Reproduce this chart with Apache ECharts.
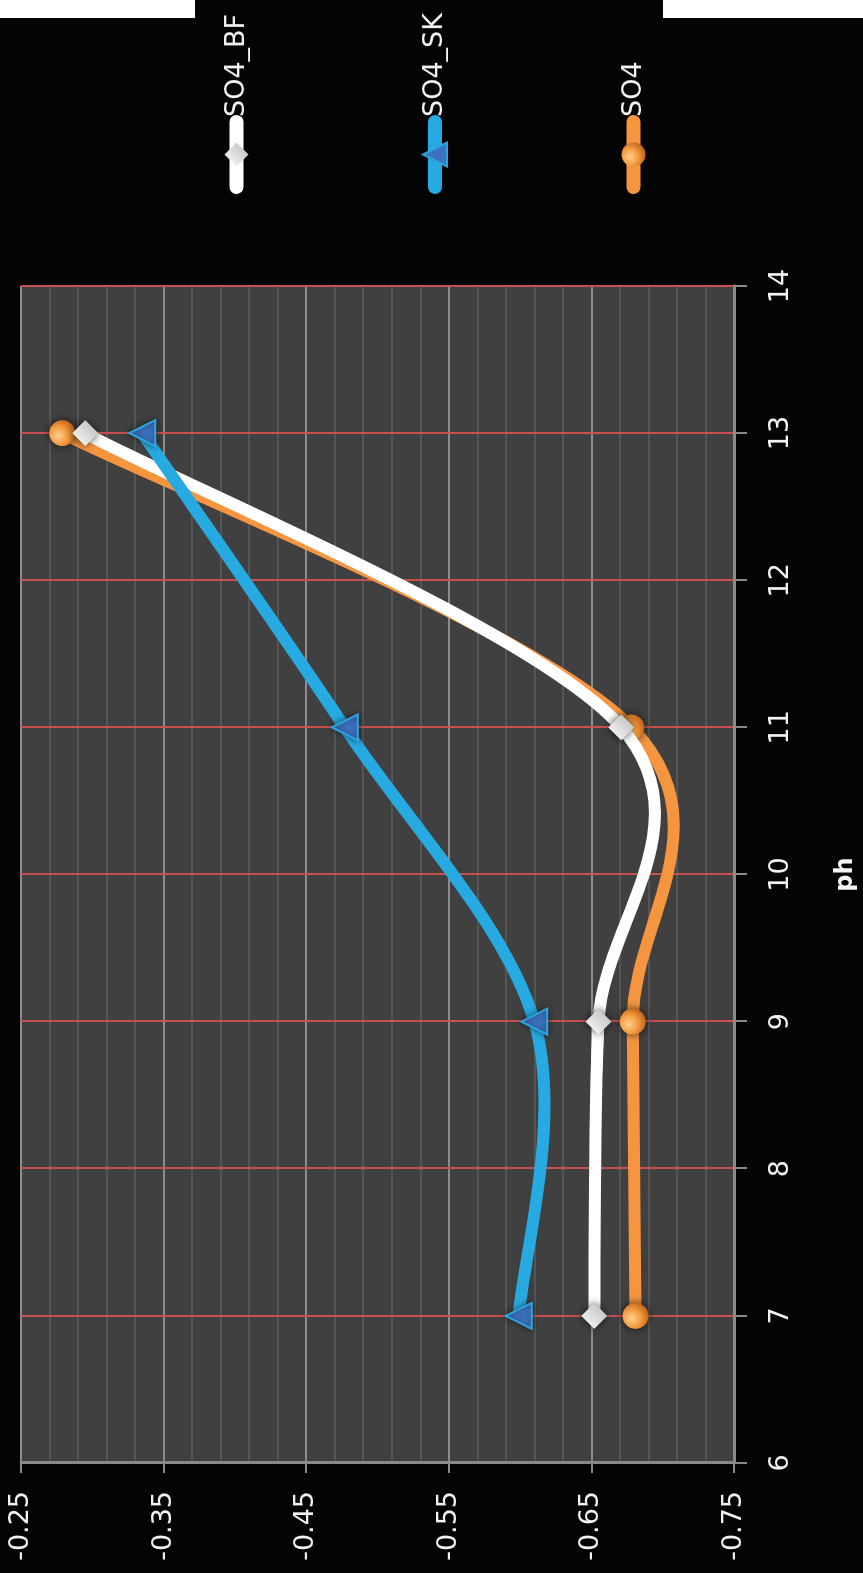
<!DOCTYPE html>
<html>
<head>
<meta charset="utf-8">
<script src="https://cdn.jsdelivr.net/npm/echarts@6/dist/echarts.min.js"></script>
<style>
  html, body { margin: 0; padding: 0; background: #040404; overflow: hidden; }
  /* The chart is laid out landscape and turned a quarter turn counter-clockwise */
  #frame {
    position: absolute; left: 0; top: 0;
    width: 1573px; height: 863px;
    transform-origin: 0 0;
    transform: translate(0, 1573px) rotate(-90deg);
  }
</style>
</head>
<body>
<div id="frame"></div>
<script>
// pH sample points
const ph = [7, 9, 11, 13];
// Series values
const so4BF = [-0.652, -0.655, -0.671, -0.295];
const so4SK = [-0.599, -0.610, -0.477, -0.335];
const so4 = [-0.681, -0.679, -0.678, -0.279];
// Axis ranges
const phRange = [6, 14];
const phStep = 1;
const valueRange = [-0.75, -0.25];
const valueStep = 0.1;

const FONT = 'DejaVu Sans';
const chart = echarts.init(document.getElementById('frame'), null, { renderer: 'canvas', width: 1573, height: 863 });

// Smooth curve through the points: Catmull-Rom segments as cubic Beziers (tension 1/6)
function curveSeries(name, values, color, z) {
  const n = ph.length;
  return {
    type: 'custom',
    name: name,
    z: z,
    silent: true,
    animation: false,
    data: ph.map((p, i) => [p, values[i]]),
    renderItem: function (params, api) {
      const i = params.dataIndex;
      if (i >= n - 1) return null;
      const pt = k => {
        const j = Math.max(0, Math.min(n - 1, k));
        return api.coord([ph[j], values[j]]);
      };
      const p0 = pt(i - 1), p1 = pt(i), p2 = pt(i + 1), p3 = pt(i + 2);
      return {
        type: 'bezierCurve',
        shape: {
          x1: p1[0], y1: p1[1],
          x2: p2[0], y2: p2[1],
          cpx1: p1[0] + (p2[0] - p0[0]) / 6,
          cpy1: p1[1] + (p2[1] - p0[1]) / 6,
          cpx2: p2[0] - (p3[0] - p1[0]) / 6,
          cpy2: p2[1] - (p3[1] - p1[1]) / 6
        },
        style: { stroke: color, lineWidth: 12, fill: 'none', lineCap: 'round', lineJoin: 'round' }
      };
    }
  };
}

// Marker series (the connecting line is drawn by the curve series)
function markerSeries(name, values, color, symbol, itemStyle, z) {
  return {
    type: 'line',
    name: name,
    z: z,
    data: ph.map((p, i) => [p, values[i]]),
    symbol: symbol,
    symbolSize: 26,
    showSymbol: true,
    smooth: false,
    animation: false,
    emphasis: { disabled: true },
    lineStyle: { width: 12, color: color, opacity: 0 },
    itemStyle: itemStyle
  };
}

const COLORS = { bf: '#ffffff', sk: '#27a9e1', so4: '#f6953f' };

const diamondStyle = {
  color: new echarts.graphic.LinearGradient(0, 0, 1, 1, [
    { offset: 0, color: '#ffffff' }, { offset: 1, color: '#b8b8b8' }
  ]),
  shadowBlur: 8, shadowColor: 'rgba(0,0,0,0.7)'
};
const triangleStyle = {
  color: '#3d72c0', borderColor: '#2aa6df', borderWidth: 2,
  shadowBlur: 6, shadowColor: 'rgba(0,0,0,0.5)'
};
const circleStyle = {
  color: new echarts.graphic.RadialGradient(0.4, 0.35, 0.65, [
    { offset: 0, color: '#ffd08c' }, { offset: 0.55, color: '#f39a40' }, { offset: 1, color: '#c2661a' }
  ]),
  shadowBlur: 8, shadowColor: 'rgba(0,0,0,0.7)'
};

function legendItem(name, color) {
  return { name: name, lineStyle: { color: color, width: 14, opacity: 1, cap: 'round' } };
}

chart.setOption({
  animation: false,
  backgroundColor: '#040404',
  textStyle: { fontFamily: FONT },
  grid: {
    left: 110, right: 286, top: 21, bottom: 128,
    show: true, backgroundColor: '#404040', borderWidth: 0
  },
  legend: {
    orient: 'vertical',
    left: 1374, top: 218,
    itemWidth: 65, itemHeight: 30, itemGap: 171.5,
    textStyle: { color: '#f2f2f2', fontSize: 27, fontFamily: FONT },
    data: [legendItem('SO4_BF', COLORS.bf), legendItem('SO4_SK', COLORS.sk), legendItem('SO4', COLORS.so4)]
  },
  xAxis: {
    type: 'value',
    min: phRange[0], max: phRange[1], interval: phStep,
    name: 'ph', nameLocation: 'middle', nameGap: 100,
    nameTextStyle: { color: '#f4f4f4', fontWeight: 'bold', fontSize: 24, fontFamily: FONT },
    axisLine: { show: true, onZero: false, lineStyle: { color: '#8a8a8a', width: 3 } },
    axisTick: { show: true, length: 13, lineStyle: { color: '#8a8a8a', width: 2 } },
    axisLabel: { color: '#f2f2f2', fontSize: 27, margin: 33, fontFamily: FONT },
    splitLine: { show: true, lineStyle: { color: '#c8504f', width: 2 } }
  },
  yAxis: {
    type: 'value',
    min: valueRange[0], max: valueRange[1], interval: valueStep,
    axisLine: { show: true, lineStyle: { color: '#8a8a8a', width: 3 } },
    axisTick: { show: true, length: 10, lineStyle: { color: '#8a8a8a', width: 2 } },
    axisLabel: { color: '#f2f2f2', fontSize: 27, margin: 28, fontFamily: FONT, formatter: v => v.toFixed(2) },
    splitLine: { show: true, lineStyle: { color: '#8c8c8c', width: 2 } },
    minorTick: { show: false, splitNumber: 5 },
    minorSplitLine: { show: true, lineStyle: { color: '#5c5c5c', width: 1.5 } }
  },
  graphic: [
    { type: 'rect', shape: { x: 1555, y: 0, width: 18, height: 195 }, style: { fill: '#ffffff' }, z: 100 },
    { type: 'rect', shape: { x: 1555, y: 663, width: 18, height: 200 }, style: { fill: '#ffffff' }, z: 100 }
  ],
  series: [
    markerSeries('SO4_BF', so4BF, COLORS.bf, 'diamond', diamondStyle, 5),
    markerSeries('SO4_SK', so4SK, COLORS.sk, 'triangle', triangleStyle, 7),
    markerSeries('SO4', so4, COLORS.so4, 'circle', circleStyle, 3),
    curveSeries('SO4', so4, COLORS.so4, 2),
    curveSeries('SO4_BF', so4BF, COLORS.bf, 4),
    curveSeries('SO4_SK', so4SK, COLORS.sk, 6)
  ]
});
</script>
</body>
</html>
